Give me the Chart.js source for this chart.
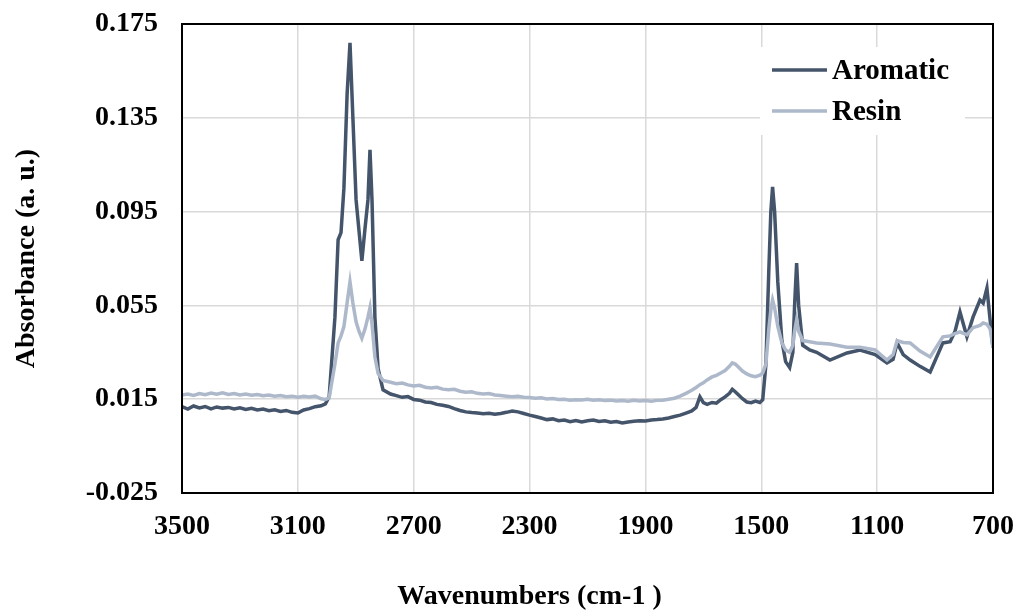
<!DOCTYPE html>
<html>
<head>
<meta charset="utf-8">
<script src="https://cdn.jsdelivr.net/npm/chart.js@4"></script>
<style>
  html, body { margin: 0; padding: 0; background: #fff; }
  #wrap { width: 1018px; height: 614px; }
</style>
</head>
<body>
<div id="wrap"><canvas id="ftirChart" width="1018" height="614"></canvas></div>
<script>
// wavenumbers (cm-1)
const wavenumbers = [3500, 3480, 3460, 3440, 3420, 3400, 3380, 3360, 3340, 3320, 3300, 3280, 3260, 3240, 3220, 3200, 3180, 3160, 3140, 3120, 3100, 3080, 3060, 3040, 3020, 3005, 2992,
  2972, 2961, 2951, 2941, 2930, 2920, 2910, 2899, 2889, 2879, 2868, 2858, 2851, 2844, 2834, 2823, 2806,
  2780, 2760, 2740, 2720, 2700, 2680, 2660, 2640, 2620, 2600, 2580, 2560, 2540, 2520, 2500, 2480, 2460, 2440, 2420, 2400, 2380, 2360, 2340, 2320, 2300, 2280, 2260, 2240, 2220, 2200, 2180, 2160, 2140, 2120, 2100, 2080, 2060, 2040, 2020, 2000, 1980, 1960, 1940, 1920, 1900, 1880, 1860, 1840, 1820, 1800, 1780, 1760, 1740, 1725, 1712, 1700, 1687, 1670, 1655, 1640, 1625, 1610, 1600, 1590, 1580, 1565, 1550, 1535, 1520, 1505, 1495,
  1484, 1474, 1467, 1461, 1454, 1443, 1429, 1416, 1402, 1391, 1385, 1378, 1371, 1357, 1333, 1309, 1263, 1204, 1159, 1107, 1066, 1045, 1031, 1010, 986, 952, 917, 873, 848, 831, 814, 800, 790, 769, 745, 734, 721, 710, 700];

const aromatic = [0.0118, 0.0108, 0.0121, 0.0113, 0.0119, 0.0109, 0.0117, 0.0112, 0.0115, 0.0108, 0.0113, 0.0106, 0.0111, 0.0104, 0.0108, 0.0101, 0.0105, 0.0098, 0.0102, 0.0094, 0.0091, 0.0104, 0.0110, 0.0118, 0.0122, 0.0130, 0.0160,
  0.0500, 0.0830, 0.0860, 0.1050, 0.1450, 0.1670, 0.1350, 0.1000, 0.0870, 0.0740, 0.0880, 0.1000, 0.1213, 0.1000, 0.0500, 0.0280, 0.0190,
  0.0172, 0.0165, 0.0158, 0.0161, 0.0149, 0.0146, 0.0138, 0.0136, 0.0128, 0.0124, 0.0119, 0.0110, 0.0102, 0.0096, 0.0093, 0.0091, 0.0088, 0.0090, 0.0086, 0.0089, 0.0094, 0.0100, 0.0096, 0.0089, 0.0082, 0.0076, 0.0070, 0.0063, 0.0066, 0.0058, 0.0061, 0.0054, 0.0059, 0.0053, 0.0058, 0.0061, 0.0055, 0.0058, 0.0052, 0.0055, 0.0049, 0.0053, 0.0056, 0.0058, 0.0057, 0.0061, 0.0063, 0.0066, 0.0070, 0.0076, 0.0082, 0.0091, 0.0100, 0.0115, 0.0160, 0.0135, 0.0128, 0.0136, 0.0133, 0.0148, 0.0160, 0.0175, 0.0192, 0.0182, 0.0170, 0.0152, 0.0138, 0.0135, 0.0142, 0.0136, 0.0148,
  0.0300, 0.0700, 0.0950, 0.1055, 0.0950, 0.0650, 0.0400, 0.0310, 0.0285, 0.0350, 0.0550, 0.0730, 0.0550, 0.0380, 0.0360, 0.0350, 0.0317, 0.0347, 0.0360, 0.0340, 0.0305, 0.0320, 0.0390, 0.0340, 0.0317, 0.0290, 0.0266, 0.0390, 0.0395, 0.0440, 0.0522, 0.0460, 0.0416, 0.0500, 0.0573, 0.0560, 0.0624, 0.0488, 0.0370];

const resin = [0.0168, 0.0172, 0.0166, 0.0174, 0.0169, 0.0176, 0.0171, 0.0177, 0.0170, 0.0174, 0.0168, 0.0172, 0.0167, 0.0170, 0.0165, 0.0168, 0.0163, 0.0166, 0.0161, 0.0163, 0.0158, 0.0162, 0.0159, 0.0163, 0.0152, 0.0149, 0.0155,
  0.0300, 0.0390, 0.0420, 0.0460, 0.0560, 0.0650, 0.0560, 0.0480, 0.0440, 0.0410, 0.0450, 0.0500, 0.0540, 0.0470, 0.0330, 0.0260, 0.0230,
  0.0222, 0.0216, 0.0219, 0.0211, 0.0206, 0.0209, 0.0201, 0.0198, 0.0201, 0.0193, 0.0190, 0.0192, 0.0184, 0.0180, 0.0182, 0.0175, 0.0172, 0.0174, 0.0168, 0.0166, 0.0163, 0.0160, 0.0162, 0.0158, 0.0157, 0.0154, 0.0156, 0.0151, 0.0153, 0.0149, 0.0150, 0.0146, 0.0148, 0.0147, 0.0150, 0.0146, 0.0148, 0.0144, 0.0146, 0.0142, 0.0144, 0.0141, 0.0145, 0.0142, 0.0144, 0.0141, 0.0145, 0.0146, 0.0150, 0.0154, 0.0163, 0.0175, 0.0188, 0.0200, 0.0212, 0.0220, 0.0232, 0.0245, 0.0252, 0.0262, 0.0272, 0.0290, 0.0305, 0.0300, 0.0288, 0.0270, 0.0258, 0.0250, 0.0246, 0.0252, 0.0262,
  0.0300, 0.0450, 0.0530, 0.0573, 0.0540, 0.0460, 0.0390, 0.0360, 0.0350, 0.0380, 0.0440, 0.0488, 0.0440, 0.0400, 0.0395, 0.0390, 0.0385, 0.0372, 0.0372, 0.0360, 0.0317, 0.0340, 0.0400, 0.0392, 0.0390, 0.0355, 0.0330, 0.0416, 0.0420, 0.0430, 0.0437, 0.0430, 0.0424, 0.0455, 0.0465, 0.0475, 0.0470, 0.0450, 0.0370];

const xTicks = [3500, 3100, 2700, 2300, 1900, 1500, 1100, 700];
const yTicks = [-0.025, 0.015, 0.055, 0.095, 0.135, 0.175];

const FONT = "'Liberation Serif', 'Times New Roman', serif";

function toPoints(xs, ys) {
  return xs.map((x, i) => ({ x: x, y: ys[i] }));
}

// x title sits left of the plot centre in the original
const shiftXTitle = {
  id: 'shiftXTitle',
  beforeDraw(chart) {
    const s = chart.scales.x;
    if (s._shifted) return;
    const orig = s.drawTitle.bind(s);
    s.drawTitle = function () {
      chart.ctx.save();
      chart.ctx.translate(-58, 0);
      orig();
      chart.ctx.restore();
    };
    s._shifted = true;
  }
};

// frame round the plot + legend box inside it
const frameAndLegend = {
  id: 'frameAndLegend',
  afterDatasetsDraw(chart) {
    const { ctx, chartArea: a } = chart;
    ctx.save();
    ctx.strokeStyle = '#000';
    ctx.lineWidth = 2;
    ctx.strokeRect(a.left, a.top, a.right - a.left, a.bottom - a.top);

    // legend
    ctx.fillStyle = '#fff';
    ctx.fillRect(760, 47, 205, 88);
    const items = [chart.data.datasets[0], chart.data.datasets[1]];
    const ys = [70, 111];
    ctx.font = 'bold 29px ' + FONT;
    ctx.textBaseline = 'middle';
    ctx.textAlign = 'left';
    items.forEach((ds, i) => {
      ctx.strokeStyle = ds.borderColor;
      ctx.lineWidth = 3.5;
      ctx.beginPath();
      ctx.moveTo(772, ys[i]);
      ctx.lineTo(827, ys[i]);
      ctx.stroke();
      ctx.fillStyle = '#000';
      ctx.fillText(ds.label, 832, ys[i] + 2);
    });
    ctx.restore();
  }
};

const ctx = document.getElementById('ftirChart').getContext('2d');
new Chart(ctx, {
  type: 'line',
  data: {
    datasets: [
      {
        label: 'Aromatic',
        data: toPoints(wavenumbers, aromatic),
        borderColor: '#44546a',
        borderWidth: 3.5,
        pointRadius: 0,
        tension: 0,
        order: 1
      },
      {
        label: 'Resin',
        data: toPoints(wavenumbers, resin),
        borderColor: '#adb9ca',
        borderWidth: 3.5,
        pointRadius: 0,
        tension: 0,
        order: 0
      }
    ]
  },
  options: {
    responsive: false,
    animation: false,
    layout: { padding: { top: 24, right: 25, left: 0, bottom: 0 } },
    plugins: {
      legend: { display: false },
      tooltip: { enabled: false }
    },
    scales: {
      x: {
        type: 'linear',
        reverse: true,
        min: 700,
        max: 3500,
        afterBuildTicks: axis => { axis.ticks = xTicks.map(v => ({ value: v })); },
        afterFit: scale => {
          scale.height = 121;
          scale.paddingLeft = 0;
          scale.paddingRight = 0;
        },
        grid: { color: '#d9d9d9', lineWidth: 1.5, drawTicks: false },
        border: { display: false },
        ticks: {
          padding: 17,
          color: '#000',
          font: { family: FONT, size: 28, weight: 'bold' },
          callback: v => String(v)
        },
        title: {
          display: true,
          text: 'Wavenumbers (cm-1 )',
          color: '#000',
          font: { family: FONT, size: 28, weight: 'bold' },
          padding: { top: 0, bottom: 0 }
        }
      },
      y: {
        min: -0.025,
        max: 0.175,
        afterBuildTicks: axis => { axis.ticks = yTicks.map(v => ({ value: v })); },
        afterFit: scale => {
          scale.width = 182;
          scale.paddingTop = 0;
          scale.paddingBottom = 0;
        },
        grid: { color: '#d9d9d9', lineWidth: 1.5, drawTicks: false },
        border: { display: false },
        ticks: {
          padding: 24,
          color: '#000',
          font: { family: FONT, size: 28, weight: 'bold' },
          callback: v => v.toFixed(3)
        },
        title: {
          display: true,
          text: 'Absorbance (a. u.)',
          color: '#000',
          font: { family: FONT, size: 28, weight: 'bold' },
          padding: { top: 10, bottom: 0 }
        }
      }
    }
  },
  plugins: [shiftXTitle, frameAndLegend]
});
</script>
</body>
</html>
